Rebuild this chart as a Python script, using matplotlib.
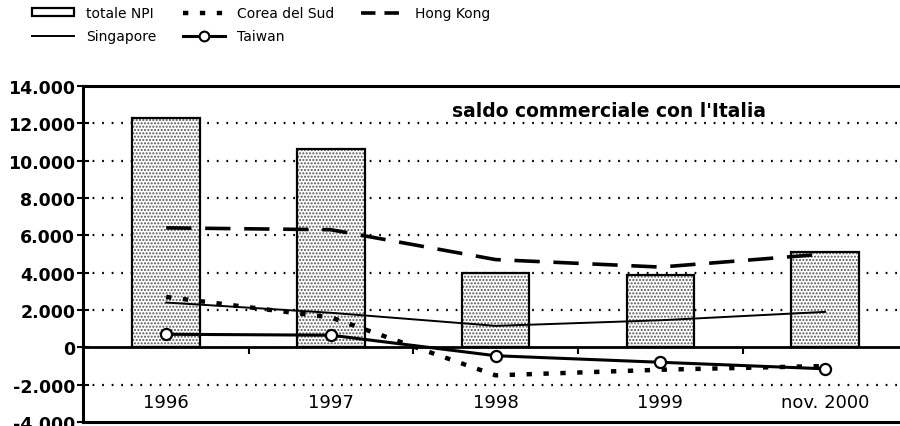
import matplotlib
matplotlib.use("Agg")
import matplotlib.pyplot as plt
from matplotlib.patches import Patch
from matplotlib.lines import Line2D
from matplotlib.ticker import FuncFormatter

# dati: saldo commerciale con l'Italia (milioni)
anni = ["1996", "1997", "1998", "1999", "nov. 2000"]
totale_npi = [12300, 10600, 4000, 3850, 5100]
corea = [2700, 1600, -1500, -1200, -1000]
hong_kong = [6400, 6300, 4700, 4300, 5000]
singapore = [2400, 1850, 1150, 1450, 1900]
taiwan = [700, 650, -450, -800, -1150]
yticks = [-4000, -2000, 0, 2000, 4000, 6000, 8000, 10000, 12000, 14000]

plt.rcParams['font.family'] = ['DejaVu Sans']

fig = plt.figure(figsize=(9, 4.27), dpi=100)
ax = fig.add_axes([83 / 900, 4 / 427, 817 / 900, 336 / 427])

x = list(range(len(anni)))

# griglia a puntini
for v in yticks:
    if v not in (0, -4000, 14000):
        ax.axhline(v, color='black', lw=1.6, ls=(0, (0.8, 3.5)), zorder=1)

# barre: retino + bordo
ax.bar(x, totale_npi, width=0.41, color='white', hatch='.....', edgecolor='#555555',
       linewidth=0, zorder=2)
ax.bar(x, totale_npi, width=0.41, fill=False, edgecolor='black', linewidth=1.6, zorder=3)

ax.plot(x, hong_kong, color='black', lw=2.6, ls=(0, (7, 3.8)), zorder=4)
ax.plot(x, corea, color='black', lw=3.2, ls=(0, (1.2, 2.6)), zorder=4)
ax.plot(x, singapore, color='black', lw=1.4, zorder=4)
ax.plot(x, taiwan, color='black', lw=2.2, marker='o', ms=8, mfc='white', mec='black',
        mew=1.6, zorder=5)

ax.set_xlim(-0.505, 4.455)
ax.set_ylim(-4000, 14000)

# asse y
ax.set_yticks(yticks)
ax.yaxis.set_major_formatter(FuncFormatter(lambda v, p: f"{int(v):,}".replace(",", ".")))
ax.tick_params(axis='y', direction='inout', length=9, width=1.5, labelsize=12.5, pad=1)
for lab in ax.get_yticklabels():
    lab.set_fontweight('bold')

# asse x sullo zero
ax.spines['bottom'].set_position(('data', 0))
ax.spines['bottom'].set_linewidth(2)
ax.set_xticks([0.5, 1.5, 2.5, 3.5])
ax.set_xticklabels([])
ax.tick_params(axis='x', direction='out', length=5, width=1.5)
ax.axhline(-4000, color='black', lw=2.2, clip_on=False, zorder=6)

ax.spines['left'].set_linewidth(2.2)
ax.spines['top'].set_linewidth(2.2)
ax.spines['right'].set_visible(False)

for xi, a in zip(x, anni):
    ax.text(xi, -2950, a, ha='center', va='center', fontsize=13)

ax.text(0.644, 0.926, "saldo commerciale con l'Italia", transform=ax.transAxes,
        ha='center', va='center', fontsize=13.5, fontweight='bold')

handles = [
    Patch(facecolor='white', edgecolor='black', linewidth=1.6),
    Line2D([], [], color='black', lw=1.4),
    Line2D([], [], color='black', lw=3.2, ls=(0, (1.2, 2.6))),
    Line2D([], [], color='black', lw=2.2, marker='o', ms=7, mfc='white', mec='black', mew=1.5),
    Line2D([], [], color='black', lw=2.6, ls=(0, (4, 2.5))),
]
labels = ["totale NPI", "Singapore", "Corea del Sud", "Taiwan", "Hong Kong"]
fig.legend(handles, labels, ncol=3, loc='upper left', bbox_to_anchor=(0.022, 1.012),
           frameon=False, fontsize=10, handlelength=3.0, handleheight=0.5,
           columnspacing=1.9, labelspacing=0.65, handletextpad=0.9)

fig.savefig("out.png", dpi=100)
